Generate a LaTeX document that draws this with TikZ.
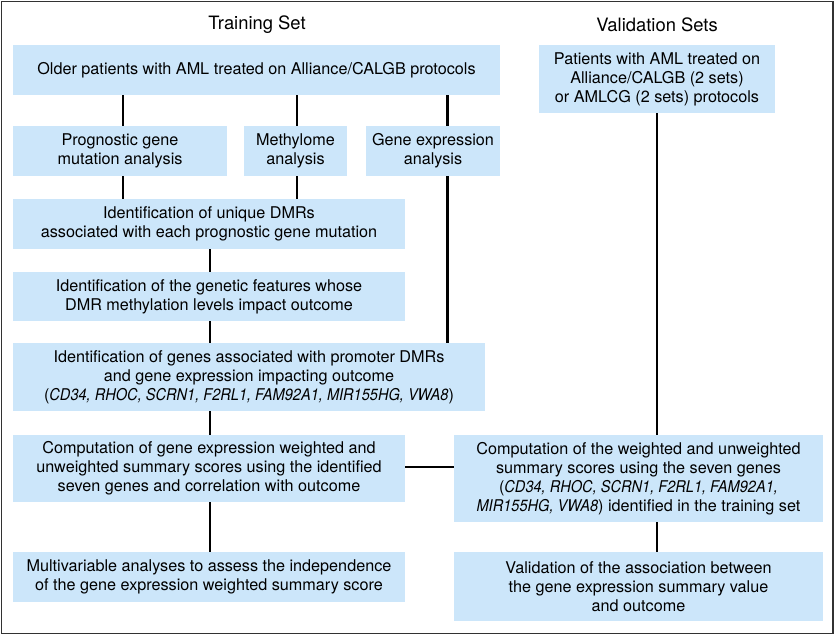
\documentclass[tikz,border=0pt]{standalone}
\usepackage{fontspec}
\setmainfont{TeX Gyre Heros}[ItalicFeatures={FakeStretch=0.9}]
\definecolor{boxblue}{RGB}{204,230,250}
\definecolor{framegray}{RGB}{50,50,50}
\begin{document}
\begin{tikzpicture}[x=1pt,y=-1pt,
  bx/.style={fill=boxblue,draw=none,inner sep=0pt,align=center,
    font=\fontsize{16.2}{19}\selectfont},
  title/.style={font=\fontsize{18.4}{21}\selectfont},
  link/.style={line width=2.7pt,black}]
\useasboundingbox (0,0) rectangle (837,635);
\draw[framegray,line width=1.4pt] (1.5,1.5) rectangle (833,633.5);
\node[title] (tt) at (257,25) {Training Set};
\node[title] (vt) at (657,25) {Validation Sets};
\node[bx,minimum width=487pt,minimum height=50pt] (top) at (256.5,70) {Older patients with AML treated on Alliance/CALGB protocols};
\node[bx,minimum width=236pt,minimum height=68pt] (vtop) at (657,79) {Patients with AML treated on\\Alliance/CALGB (2 sets)\\or AMLCG (2 sets) protocols};
\node[bx,minimum width=214pt,minimum height=50pt] (prog) at (120,151) {Prognostic gene\\mutation analysis};
\node[bx,minimum width=103pt,minimum height=50pt] (meth) at (295.5,151) {Methylome\\analysis};
\node[bx,minimum width=134pt,minimum height=50pt] (gexp) at (433,151) {Gene expression\\analysis};
\node[bx,minimum width=392pt,minimum height=50pt] (dmr) at (209,224) {Identification of unique DMRs\\associated with each prognostic gene mutation};
\node[bx,minimum width=392pt,minimum height=49pt] (feat) at (209,296.5) {Identification of the genetic features whose\\DMR methylation levels impact outcome};
\node[bx,minimum width=472pt,minimum height=68pt] (genes) at (249,377) {Identification of genes associated with promoter DMRs\\and gene expression impacting outcome\\(\textit{CD34, RHOC, SCRN1, F2RL1, FAM92A1, MIR155HG, VWA8})};
\node[bx,minimum width=392pt,minimum height=67pt] (comp) at (209,468.5) {Computation of gene expression weighted and\\unweighted summary scores using the identified\\seven genes and correlation with outcome};
\node[bx,minimum width=392pt,minimum height=50pt] (multi) at (209,577) {Multivariable analyses to assess the independence\\of the gene expression weighted summary score};
\node[bx,minimum width=369pt,minimum height=87pt] (vcomp) at (638.5,478.5) {Computation of the weighted and unweighted\\summary scores using the seven genes\\(\textit{CD34, RHOC, SCRN1, F2RL1, FAM92A1,}\\\textit{MIR155HG, VWA8}) identified in the training set};
\node[bx,minimum width=369pt,minimum height=69pt] (vval) at (638.5,586.5) {Validation of the association between\\the gene expression summary value\\and outcome};
\coordinate (xa) at (123,0);
\coordinate (xb) at (297,0);
\coordinate (xc) at (447.5,0);
\coordinate (xd) at (210,0);
\coordinate (xe) at (657,0);
\coordinate (yh) at (0,467);
\draw[link] (top.south -| xa) -- (prog.north -| xa);
\draw[link] (prog.south -| xa) -- (dmr.north -| xa);
\draw[link] (top.south -| xb) -- (meth.north -| xb);
\draw[link] (meth.south -| xb) -- (dmr.north -| xb);
\draw[link] (top.south -| xc) -- (gexp.north -| xc);
\draw[link] (gexp.south -| xc) -- (genes.north -| xc);
\draw[link] (dmr.south -| xd) -- (feat.north -| xd);
\draw[link] (feat.south -| xd) -- (genes.north -| xd);
\draw[link] (genes.south -| xd) -- (comp.north -| xd);
\draw[link] (comp.south -| xd) -- (multi.north -| xd);
\draw[link] (vtop.south -| xe) -- (vcomp.north -| xe);
\draw[link] (vcomp.south -| xe) -- (vval.north -| xe);
\draw[link] (comp.east |- yh) -- (vcomp.west |- yh);
\end{tikzpicture}
\end{document}
